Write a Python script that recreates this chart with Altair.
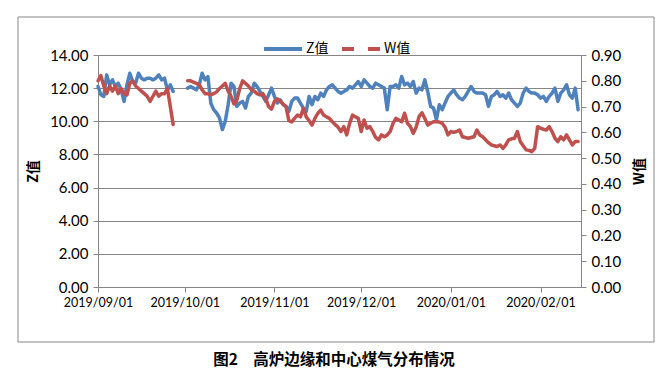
import altair as alt
import pandas as pd

# ---- data (daily values) ----
series_names = ["Z值", "W值"]
series_colors = ["#4F81BD", "#C0504D"]

# segment 1: 2019-09-01 .. 2019-09-27
seg1_start = "2019-09-01"
z_seg1 = [12.1, 11.6, 11.5, 12.8, 12.2, 12.5, 12.1, 12.3, 11.9, 11.2,
          12.2, 12.9, 12.4, 12.3, 12.9, 12.6, 12.5, 12.6, 12.6, 12.5,
          12.6, 12.8, 12.5, 12.6, 11.9, 12.2, 11.8]
w_seg1 = [0.80, 0.82, 0.78, 0.75, 0.78, 0.76, 0.78, 0.75, 0.77, 0.75,
          0.745, 0.79, 0.80, 0.78, 0.77, 0.76, 0.75, 0.74, 0.72, 0.74,
          0.76, 0.74, 0.75, 0.75, 0.77, 0.70, 0.63]

# segment 2: 2019-10-02 .. 2020-02-14
seg2_start = "2019-10-02"
z_seg2 = [12.0, 12.1, 12.0, 11.9, 12.2, 12.9, 12.5, 12.7, 11.1, 10.7,
          10.5, 10.2, 9.5, 10.0, 11.0, 12.3, 12.1, 10.9, 11.1, 11.2,
          10.8, 11.5, 11.7, 12.3, 12.1, 11.8, 11.5, 11.2, 11.6, 12.0,
          11.5, 11.1, 11.3, 11.0, 10.9, 10.6, 11.2, 11.4, 11.4, 11.1,
          10.8, 10.6, 11.5, 11.0, 11.5, 11.3, 11.7, 11.5, 11.9, 12.1,
          12.2, 12.0, 11.8, 11.7, 11.8, 11.9, 12.1, 12.0, 12.2, 12.4,
          12.1, 12.5, 12.3, 12.1, 12.0, 12.3, 12.2, 12.1, 12.0, 10.7,
          12.1, 12.1, 12.2, 12.0, 12.7, 12.2, 12.3, 12.1, 12.4, 11.7,
          12.0, 11.9, 12.5, 11.8, 10.9, 10.8, 10.1, 11.0, 10.7, 11.1,
          11.5, 11.7, 11.9, 11.6, 11.4, 11.3, 11.5, 11.8, 12.1, 11.8,
          11.7, 11.7, 11.7, 11.6, 10.9, 11.5, 11.6, 11.8, 11.5, 11.6,
          11.4, 11.7, 11.3, 11.1, 10.9, 11.1, 11.7, 12.0, 11.8, 11.7,
          11.7, 11.6, 11.4, 11.5, 11.2, 11.5, 11.7, 12.0, 11.2, 11.7,
          11.9, 12.2, 11.6, 11.4, 12.0, 10.7]
w_seg2 = [0.80, 0.80, 0.795, 0.79, 0.785, 0.765, 0.75, 0.75, 0.745, 0.75,
          0.757, 0.77, 0.78, 0.79, 0.76, 0.74, 0.71, 0.725, 0.77, 0.80,
          0.79, 0.78, 0.765, 0.76, 0.75, 0.745, 0.75, 0.73, 0.70, 0.69,
          0.72, 0.73, 0.72, 0.71, 0.70, 0.645, 0.64, 0.655, 0.667, 0.66,
          0.693, 0.66, 0.645, 0.628, 0.654, 0.674, 0.686, 0.667, 0.66, 0.654,
          0.641, 0.63, 0.62, 0.603, 0.622, 0.59, 0.635, 0.667, 0.66, 0.654,
          0.603, 0.648, 0.616, 0.622, 0.603, 0.58, 0.571, 0.59, 0.583, 0.59,
          0.603, 0.635, 0.654, 0.648, 0.641, 0.674, 0.635, 0.622, 0.596, 0.62,
          0.661, 0.676, 0.654, 0.628, 0.635, 0.641, 0.641, 0.64, 0.635, 0.62,
          0.59, 0.603, 0.60, 0.603, 0.609, 0.583, 0.58, 0.577, 0.58, 0.583,
          0.609, 0.59, 0.583, 0.571, 0.56, 0.551, 0.548, 0.545, 0.551, 0.538,
          0.551, 0.571, 0.575, 0.577, 0.603, 0.564, 0.548, 0.532, 0.53, 0.525,
          0.538, 0.622, 0.616, 0.612, 0.609, 0.622, 0.603, 0.577, 0.564, 0.583,
          0.571, 0.59, 0.571, 0.551, 0.564, 0.564]

z_ticks = [0, 2, 4, 6, 8, 10, 12, 14]
w_ticks = [0.0, 0.1, 0.2, 0.3, 0.4, 0.5, 0.6, 0.7, 0.8, 0.9]
month_ticks = [(2019, 9), (2019, 10), (2019, 11), (2019, 12), (2020, 1), (2020, 2)]
caption = "图2　高炉边缘和中心煤气分布情况"


def frame(vals, start, seg):
    d = pd.date_range(start, periods=len(vals), freq="D")
    return pd.DataFrame({"date": d.strftime("%Y-%m-%d"), "value": vals, "seg": seg})


z_df = pd.concat([frame(z_seg1, seg1_start, 1), frame(z_seg2, seg2_start, 2)], ignore_index=True)
w_df = pd.concat([frame(w_seg1, seg1_start, 1), frame(w_seg2, seg2_start, 2)], ignore_index=True)

GRAY = "#868686"
FONT = "Lato, 'Noto Sans CJK SC'"
CJK = "'Noto Sans CJK SC'"

x_enc = alt.X(
    "date:T",
    scale=alt.Scale(
        type="utc",
        domain=[alt.DateTime(year=2019, month=9, date=1, utc=True),
                alt.DateTime(year=2020, month=2, date=15, utc=True)],
    ),
    axis=alt.Axis(
        values=[alt.DateTime(year=y, month=m, date=1, utc=True) for y, m in month_ticks],
        format="%Y/%m/%d", labelAngle=0, grid=False, title=None,
        labelFontSize=12.5, labelFont=FONT, labelColor="#000000",
        labelFlush=False, labelOverlap=False,
        tickSize=5, labelPadding=4, domainColor=GRAY, tickColor=GRAY,
    ),
)

z_line = alt.Chart(z_df).mark_line(
    strokeWidth=3.5, color=series_colors[0], strokeJoin="round", strokeCap="round"
).encode(
    x=x_enc,
    y=alt.Y(
        "value:Q",
        scale=alt.Scale(domain=[0, 14], nice=False, zero=True),
        axis=alt.Axis(
            orient="left", values=z_ticks, format=".2f", title="Z值",
            grid=True, gridColor=GRAY, gridWidth=1,
            domainColor=GRAY, tickColor=GRAY, tickSize=5, labelPadding=5,
            labelFontSize=15, labelFont=FONT, labelColor="#000000",
            titleFont=CJK, titleFontSize=14, titleFontWeight="bold",
            titleColor="#000000", titleAngle=270,
            titleX=-65, titleY=116, titleAlign="center", titleBaseline="middle",
        ),
    ),
    detail="seg:N",
)

w_line = alt.Chart(w_df).mark_line(
    strokeWidth=3.5, color=series_colors[1], strokeJoin="round", strokeCap="round"
).encode(
    x=x_enc,
    y=alt.Y(
        "value:Q",
        scale=alt.Scale(domain=[0, 0.9], nice=False, zero=True),
        axis=alt.Axis(
            orient="right", values=w_ticks, format=".2f", title="W值",
            grid=False, domainColor=GRAY, tickColor=GRAY, tickSize=5, labelPadding=5,
            labelFontSize=15, labelFont=FONT, labelColor="#000000",
            titleFont=CJK, titleFontSize=14, titleFontWeight="bold",
            titleColor="#000000", titleAngle=270,
            titleX=58, titleY=116, titleAlign="center", titleBaseline="middle",
        ),
    ),
    detail="seg:N",
)

legend_spec = alt.Legend(
    title=None, orient="none", legendX=164, legendY=-27, direction="horizontal",
    symbolType="stroke", symbolSize=1444, symbolStrokeWidth=4,
    labelFontSize=14, labelFont=CJK, labelColor="#000000",
    labelOffset=2, columnPadding=5,
)
legend_layer = alt.Chart(pd.DataFrame({"series": series_names})).mark_line(
    strokeWidth=4
).encode(
    x=alt.value(0),
    y=alt.value(0),
    color=alt.Color("series:N", scale=alt.Scale(domain=series_names, range=series_colors),
                    legend=legend_spec),
    strokeDash=alt.StrokeDash("series:N",
                              scale=alt.Scale(domain=series_names, range=[[1, 0], [12, 14]]),
                              legend=legend_spec),
).transform_filter("false")

frame_box = alt.Chart(pd.DataFrame({"k": [0]})).mark_rect(
    filled=False, stroke=GRAY, strokeWidth=1
).encode(
    x=alt.value(-80), x2=alt.value(556), y=alt.value(-38), y2=alt.value(287)
)

caption_text = alt.Chart(pd.DataFrame({"k": [0]})).mark_text(
    font=CJK, fontSize=15.5, fontWeight="bold", color="#000000",
    align="center", baseline="middle"
).encode(
    x=alt.value(236), y=alt.value(305), text=alt.value(caption)
)

chart = alt.layer(frame_box, z_line, w_line, legend_layer, caption_text).resolve_scale(
    y="independent"
).properties(
    width=483, height=232,
    autosize=alt.AutoSizeParams(type="none"),
    padding={"left": 90, "top": 47, "right": 81, "bottom": 82},
    background="#ffffff",
).configure_view(strokeWidth=0)

chart.save("out.html", embed_options={"renderer": "svg", "actions": False})
